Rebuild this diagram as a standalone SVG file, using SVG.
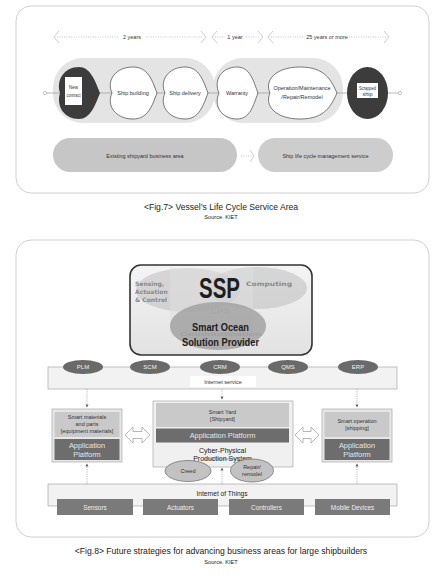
<svg xmlns="http://www.w3.org/2000/svg" width="439" height="579" viewBox="0 0 439 579">
<defs>
<style>
text{font-family:"Liberation Sans",Arial,sans-serif;text-anchor:middle;dominant-baseline:central}
.frame{fill:#fff;stroke:#c4c4c4;stroke-width:0.8}
.t5{font-size:5.5px;fill:#333}
.t6{font-size:6px;fill:#333}
.cap{font-size:8.6px;fill:#222}
.src{font-size:5.6px;fill:#222}
.dot{stroke:#999;stroke-width:0.7;stroke-dasharray:0.8 1.6;fill:none}
.brk{stroke:#aaa;stroke-width:0.6;fill:none}
.node{fill:#fff;stroke:#444;stroke-width:0.7}
.dark{fill:#3c3c3c}
.oval{fill:#6a6a6a}
.ovt{font-size:6px;fill:#f2f2f2}
.light{fill:#c9c9c9}
.plat{fill:#6d6d6d}
.plt{font-size:7.4px;fill:#e6e6e6}
.iot{fill:#7a7a7a}
.iott{font-size:6.4px;fill:#eee}
.dash{stroke:#888;stroke-width:0.7;stroke-dasharray:1 1.3;fill:none}
.faded{font-family:"DejaVu Sans",sans-serif;font-weight:bold;fill:#8a8a8a;text-anchor:start}
</style>
<marker id="ah" viewBox="0 0 6 6" refX="5" refY="3" markerWidth="5" markerHeight="5" orient="auto">
<path d="M0,0.5 L6,3 L0,5.5 L1.5,3 Z" fill="#444"/>
</marker>
<linearGradient id="sspg" x1="0" y1="0" x2="0" y2="1">
<stop offset="0" stop-color="#f4f4f4"/>
<stop offset="1" stop-color="#e2e2e2"/>
</linearGradient>
</defs>

<!-- Figure 7 -->
<g id="fig7-frame">
<rect class="frame" x="16" y="6" width="413" height="187" rx="15"/>
</g>

<g id="timeline">
<polyline class="brk" points="59,31 54,37 59,43"/>
<line class="dot" x1="57" y1="37" x2="119" y2="37"/>
<text class="t5" x="132" y="37">2 years</text>
<line class="dot" x1="146" y1="37" x2="203" y2="37"/>
<polyline class="brk" points="201,31 206,37 201,43"/>
<polyline class="brk" points="217,31 212,37 217,43"/>
<line class="dot" x1="215" y1="37" x2="225" y2="37"/>
<text class="t5" x="235" y="37">1 year</text>
<line class="dot" x1="246" y1="37" x2="260" y2="37"/>
<polyline class="brk" points="258,31 263,37 258,43"/>
<polyline class="brk" points="273,31 268,37 273,43"/>
<line class="dot" x1="271" y1="37" x2="305" y2="37"/>
<text class="t5" x="327" y="37">25 years or more</text>
<line class="dot" x1="349" y1="37" x2="386" y2="37"/>
<polyline class="brk" points="384,31 389,37 384,43"/>
</g>

<g id="group-pills">
<rect x="53" y="58" width="162" height="65" rx="30" fill="#e4e4e4"/>
<rect x="213" y="58" width="130" height="65" rx="30" fill="#e4e4e4"/>
</g>

<g id="connectors">
<line x1="47" y1="93" x2="398" y2="93" stroke="#999" stroke-width="0.7"/>
<circle cx="45" cy="93" r="1.6" fill="#fff" stroke="#999" stroke-width="0.6"/>
<circle cx="400" cy="93" r="1.6" fill="#fff" stroke="#999" stroke-width="0.6"/>
<path class="dot" d="M241,156 L252,156"/>
<polyline class="brk" points="250,150 254,156 250,162"/>
</g>

<g id="n-new-contract">
<path class="dark" d="M60,93 C56,80 64,67 79,67 C90,67 95,80 100,93 C95,106 90,119 79,119 C64,119 56,106 60,93 Z"/>
<rect x="65" y="77" width="17" height="28" fill="#fff"/>
<text class="t5" x="73.5" y="87" textLength="9" lengthAdjust="spacingAndGlyphs">New</text>
<text class="t5" x="73.5" y="95" textLength="14" lengthAdjust="spacingAndGlyphs">contract</text>
</g>

<g id="n-ship-building">
<path class="node" d="M112,93 C106,80 116,67 133,67 C148,67 152,80 157,93 C152,106 148,119 133,119 C116,119 106,106 112,93 Z"/>
<text class="t5" x="133" y="93">Ship building</text>
</g>

<g id="n-ship-delivery">
<path class="node" d="M165,93 C159,80 169,67 185,67 C199,67 203,80 208,93 C203,106 199,119 185,119 C169,119 159,106 165,93 Z"/>
<text class="t5" x="185" y="93">Ship delivery</text>
</g>

<g id="n-warranty">
<path class="node" d="M219,93 C213,80 222,67 237,67 C250,67 253,80 258,93 C253,106 250,119 237,119 C222,119 213,106 219,93 Z"/>
<text class="t5" x="237" y="93">Warranty</text>
</g>

<g id="n-operation">
<path class="node" d="M270,93 C264,80 276,67 300,67 C325,67 331,80 337,93 C331,106 325,119 300,119 C276,119 264,106 270,93 Z"/>
<text class="t5" x="302" y="88">Operation/Maintenance</text>
<text class="t5" x="302" y="97">/Repair/Remodel</text>
</g>

<g id="n-scrapped">
<ellipse class="dark" cx="367.5" cy="93" rx="20.5" ry="26"/>
<rect x="357" y="83" width="21" height="15" fill="#fff"/>
<text class="t5" x="367.5" y="87.5" textLength="17" lengthAdjust="spacingAndGlyphs">Scrapped</text>
<text class="t5" x="367.5" y="94">ship</text>
</g>

<g id="n-existing">
<rect x="53" y="138" width="184" height="34" rx="17" fill="#c6c6c6"/>
<text class="t5" x="145" y="155.5">Existing shipyard business area</text>
</g>

<g id="n-lifecycle">
<rect x="258" y="138" width="135" height="34" rx="17" fill="#cdcdcd"/>
<text class="t5" x="325.5" y="155.5">Ship life cycle management service</text>
</g>

<g id="caption7">
<text class="cap" x="221" y="207">&lt;Fig.7&gt; Vessel’s Life Cycle Service Area</text>
<text class="src" x="221" y="217">Source. KIET</text>
</g>

<!-- Figure 8 -->
<g id="fig8-frame">
<rect class="frame" x="16" y="240" width="413" height="297" rx="15"/>
</g>

<g id="n-ssp">
<rect x="130" y="265" width="182" height="90" rx="11" fill="url(#sspg)" stroke="#333" stroke-width="1.6"/>
<ellipse cx="188" cy="290" rx="52" ry="22" fill="#bdbdbd" opacity="0.55"/>
<ellipse cx="257" cy="288" rx="50" ry="21" fill="#bdbdbd" opacity="0.55"/>
<rect x="170" y="268" width="83" height="70" fill="#e0e0e0" opacity="0.5"/>
<ellipse cx="218" cy="326" rx="48" ry="24" fill="#9a9a9a" opacity="0.75"/>
<text class="faded" x="135" y="283" font-size="6">Sensing,</text>
<text class="faded" x="135" y="291" font-size="6">Actuation</text>
<text class="faded" x="135" y="299" font-size="6">&amp; Control</text>
<text class="faded" x="246" y="283" font-size="6" textLength="46" lengthAdjust="spacingAndGlyphs">Computing</text>
<text x="220" y="311" font-family="'DejaVu Sans',sans-serif" font-weight="bold" font-size="9" fill="#a8a8a8" opacity="0.8">CPS</text>
<text x="221" y="334" font-family="'DejaVu Sans',sans-serif" font-weight="bold" font-size="6" fill="#a0a0a0" textLength="82" lengthAdjust="spacingAndGlyphs">Communication</text>
<text transform="translate(219.5,287) scale(1,1.5)" x="0" y="0" font-family="'DejaVu Sans Condensed','DejaVu Sans',sans-serif" font-weight="bold" font-size="20" fill="#1e1e1e" textLength="41" lengthAdjust="spacingAndGlyphs">SSP</text>
<text x="220.5" y="327" font-family="'DejaVu Sans Condensed','DejaVu Sans',sans-serif" font-weight="bold" font-size="10" fill="#1e1e1e" textLength="57" lengthAdjust="spacingAndGlyphs">Smart Ocean</text>
<text x="220.5" y="342" font-family="'DejaVu Sans Condensed','DejaVu Sans',sans-serif" font-weight="bold" font-size="10" fill="#1e1e1e" textLength="77" lengthAdjust="spacingAndGlyphs">Solution Provider</text>
</g>

<g id="n-internet-service">
<rect x="48" y="367" width="349" height="22" fill="#f2f2f2" stroke="#a8a8a8" stroke-width="0.7"/>
<rect x="190" y="376" width="66" height="11" fill="#fff"/>
<text class="t5" x="223" y="381.5">Internet service</text>
</g>

<g id="n-plm"><ellipse class="oval" cx="83" cy="367" rx="20" ry="7"/><text class="ovt" x="83" y="367">PLM</text></g>
<g id="n-scm"><ellipse class="oval" cx="150" cy="367" rx="20" ry="7"/><text class="ovt" x="150" y="367">SCM</text></g>
<g id="n-crm"><ellipse class="oval" cx="220" cy="367" rx="20" ry="7"/><text class="ovt" x="220" y="367">CRM</text></g>
<g id="n-qms"><ellipse class="oval" cx="288" cy="367" rx="20" ry="7"/><text class="ovt" x="288" y="367">QMS</text></g>
<g id="n-erp"><ellipse class="oval" cx="358" cy="367" rx="20" ry="7"/><text class="ovt" x="358" y="367">ERP</text></g>

<g id="n-smart-materials">
<rect x="52" y="409" width="70" height="53" fill="#e6e6e6" stroke="#a8a8a8" stroke-width="0.7"/>
<rect class="light" x="54.5" y="412" width="65" height="25"/>
<text class="t5" x="87" y="417">Smart materials</text>
<text class="t5" x="87" y="423.5">and parts</text>
<text class="t5" x="87" y="430.5">[equipment materials]</text>
<rect class="plat" x="54.5" y="439" width="65" height="21"/>
<text class="plt" x="87" y="445">Application</text>
<text class="plt" x="87" y="454">Platform</text>
</g>

<g id="n-smart-yard">
<rect x="153" y="401" width="140" height="66" fill="#f0f0f0" stroke="#a8a8a8" stroke-width="0.7"/>
<rect class="light" x="156" y="403" width="133" height="24"/>
<text class="t5" x="222.5" y="411.5">Smart Yard</text>
<text class="t5" x="222.5" y="418.5">[Shipyard]</text>
<rect class="plat" x="156" y="428.5" width="133" height="14"/>
<text class="plt" x="222.5" y="435.5">Application Platform</text>
<text x="222.5" y="450" font-size="7" fill="#222">Cyber-Physical</text>
<text x="222.5" y="458.5" font-size="7" fill="#222">Production System</text>
<line x1="204" y1="459" x2="240" y2="459" stroke="#555" stroke-width="0.5"/>
</g>

<g id="n-smart-operation">
<rect x="322" y="409" width="70" height="53" fill="#e6e6e6" stroke="#a8a8a8" stroke-width="0.7"/>
<rect class="light" x="324.5" y="412" width="65" height="25"/>
<text class="t5" x="357" y="420.5">Smart operation</text>
<text class="t5" x="357" y="427.5">[shipping]</text>
<rect class="plat" x="324.5" y="439" width="65" height="21"/>
<text class="plt" x="357" y="445">Application</text>
<text class="plt" x="357" y="454">Platform</text>
</g>

<g id="n-creed">
<ellipse cx="188" cy="471" rx="23" ry="10.5" fill="#c2c2c2" stroke="#555" stroke-width="0.6"/>
<text class="t5" x="188" y="471">Creed</text>
</g>

<g id="n-repair">
<ellipse cx="252" cy="470.5" rx="21.5" ry="11.5" fill="#c2c2c2" stroke="#555" stroke-width="0.6"/>
<text class="t5" x="252" y="467">Repair/</text>
<text class="t5" x="252" y="473.5">remodel</text>
</g>

<g id="n-iot">
<path d="M48,506 L48,484 L397,484 L397,506" fill="#f2f2f2" stroke="#a8a8a8" stroke-width="0.7"/>
<line x1="48" y1="506" x2="397" y2="506" stroke="#a8a8a8" stroke-width="0.7"/>
<text x="222" y="493" font-size="6.6" fill="#222">Internet of Things</text>
</g>
<g id="n-sensors"><rect class="iot" x="57" y="499" width="76" height="16"/><text class="iott" x="95" y="507.5">Sensors</text></g>
<g id="n-actuators"><rect class="iot" x="143" y="499" width="75" height="16"/><text class="iott" x="180.5" y="507.5">Actuators</text></g>
<g id="n-controllers"><rect class="iot" x="229" y="499" width="75" height="16"/><text class="iott" x="266.5" y="507.5">Controllers</text></g>
<g id="n-mobile"><rect class="iot" x="315" y="499" width="75" height="16"/><text class="iott" x="352.5" y="507.5">Mobile Devices</text></g>

<g id="fig8-connectors">
<line class="dash" x1="87" y1="389" x2="87" y2="407" marker-end="url(#ah)"/>
<line class="dash" x1="222" y1="389" x2="222" y2="399" marker-end="url(#ah)"/>
<line class="dash" x1="357" y1="389" x2="357" y2="407" marker-end="url(#ah)"/>
<line class="dash" x1="87" y1="484" x2="87" y2="464" marker-end="url(#ah)"/>
<line class="dash" x1="222" y1="484" x2="222" y2="468" marker-end="url(#ah)"/>
<line class="dash" x1="357" y1="484" x2="357" y2="464" marker-end="url(#ah)"/>
<path d="M125,435 L133,427 L133,431.5 L142,431.5 L142,427 L150,435 L142,443 L142,438.5 L133,438.5 L133,443 Z" fill="#fff" stroke="#999" stroke-width="0.7"/>
<path d="M295,435 L303,427 L303,431.5 L311,431.5 L311,427 L319,435 L311,443 L311,438.5 L303,438.5 L303,443 Z" fill="#fff" stroke="#999" stroke-width="0.7"/>
</g>

<g id="caption8">
<text class="cap" x="221" y="551">&lt;Fig.8&gt; Future strategies for advancing business areas for large shipbuilders</text>
<text class="src" x="221" y="562">Source. KIET</text>
</g>
</svg>
